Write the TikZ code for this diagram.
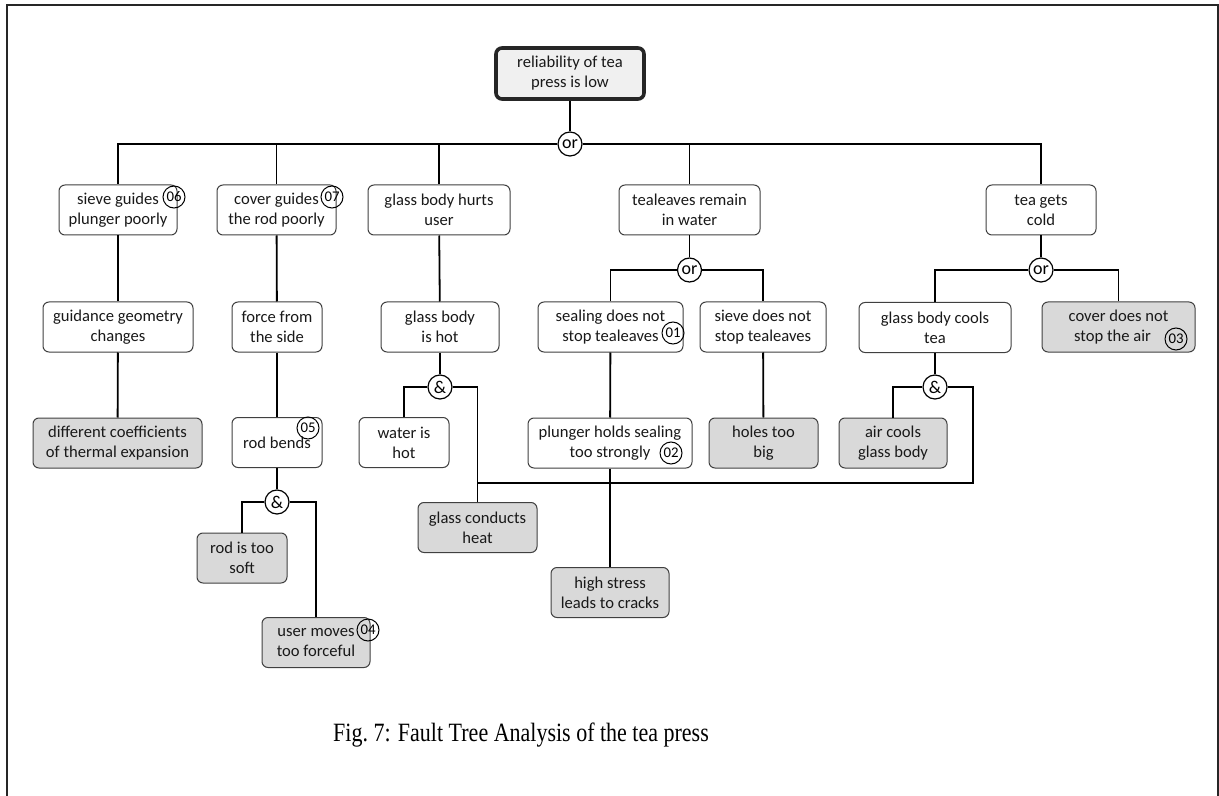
\documentclass[tikz,border=0pt]{standalone}
\usepackage{fontspec}
\setmainfont{Carlito}
\newfontfamily\capfont{Liberation Serif}
\begin{document}
\begin{tikzpicture}[x=0.5pt,y=-0.5pt,
  box/.style={draw=black!75, rounded corners=3pt, line width=0.5pt, align=center,
    font=\fontsize{8.3}{10}\selectfont, inner sep=0pt, minimum height=25pt, text=black!90, fill=white},
  gbox/.style={box, fill=black!15},
  topbox/.style={box, line width=1.8pt, draw=black!85, fill=black!6},
  gate/.style={circle, draw, line width=0.6pt, fill=white, minimum size=12pt, inner sep=0pt,
    font=\fontsize{9}{10}\selectfont},
  badge/.style={circle, draw, line width=0.5pt, minimum size=11pt, inner sep=0pt,
    font=\fontsize{7.4}{8}\selectfont},
  conn/.style={line width=0.9pt, black},
  frame/.style={line width=1pt, black!85}
]
\useasboundingbox (0,0) rectangle (1219,796);
\draw[frame] (7,796) -- (7,5) -- (1218,5) -- (1218,796);

% nodes
\node[topbox, minimum width=74pt, minimum height=25.5pt] (top) at (570,73.5) {reliability of tea\\press is low};

\node[box, minimum width=59pt] (n1) at (118,210) {sieve guides\\plunger poorly};
\node[box, minimum width=59.5pt] (n2) at (276.5,210) {cover guides\\the rod poorly};
\node[box, minimum width=71pt] (n3) at (439,210) {glass body hurts\\user};
\node[box, minimum width=70.5pt] (n4) at (689.5,210) {tealeaves remain\\in water};
\node[box, minimum width=55pt] (n5) at (1041,210) {tea gets\\cold};

\node[box, minimum width=75pt] (g1) at (118,327) {guidance geometry\\changes};
\node[box, minimum width=45pt] (g2) at (277,327) {force from\\the side};
\node[box, minimum width=59pt] (g3) at (440,327) {glass body\\is hot};
\node[box, minimum width=72.5pt] (g4) at (610.5,327) {sealing does not\\stop tealeaves};
\node[box, minimum width=63pt] (g5) at (763,327) {sieve does not\\stop tealeaves};
\node[box, minimum width=76pt] (g6) at (935,327.5) {glass body cools\\tea};
\node[gbox, minimum width=76.5pt] (g7) at (1118.5,327) {cover does not\\stop the air\hspace*{6pt}};

\node[gbox, minimum width=84.5pt] (h1) at (117.5,443) {different coefficients\\of thermal expansion};
\node[box, minimum width=45pt] (h2) at (277,442.5) {rod bends};
\node[box, minimum width=45pt] (h3) at (404,442.5) {water is\\hot};
\node[box, minimum width=82pt] (h4) at (610,443) {plunger holds sealing\\too strongly};
\node[gbox, minimum width=54.5pt] (h5) at (763.5,443) {holes too\\big};
\node[gbox, minimum width=54pt] (h6) at (893,443) {air cools\\glass body};

\node[gbox, minimum width=59.5pt] (gc) at (477.5,527.5) {glass conducts\\heat};
\node[gbox, minimum width=45pt] (rs) at (242,558) {rod is too\\soft};
\node[gbox, minimum width=59pt] (hs) at (610,592.5) {high stress\\leads to cracks};
\node[gbox, minimum width=54pt] (um) at (316,642.5) {user moves\\too forceful};

% gates
\node[gate] (or0) at (570,144) {or};
\node[gate] (or1) at (689.5,270) {or};
\node[gate] (or2) at (1041,270) {or};
\node[gate] (and1) at (440,387) {\&};
\node[gate] (and2) at (935,387) {\&};
\node[gate] (and3) at (277,502) {\&};

% badges
\node[badge] (b6) at (174,197) {06};
\node[badge] (b7) at (332,197) {07};
\node[badge] (b1) at (673,333) {01};
\node[badge] (b3) at (1176,339) {03};
\node[badge] (b5) at (308,428) {05};
\node[badge] (b2) at (671,453) {02};
\node[badge] (b4) at (368,630) {04};

\coordinate (jc) at (973,483);

% connectors
\draw[conn] (top) -- (or0);
\draw[conn] (or0) -| (n1);
\draw[conn] (or0) -| (n2);
\draw[conn] (or0) -| (n3);
\draw[conn] (or0) -| (n4);
\draw[conn] (or0) -| (n5);
\draw[conn] (n1) -- (g1);
\draw[conn] (g1) -- (h1);
\draw[conn] (n2) -- (g2);
\draw[conn] (g2) -- (h2);
\draw[conn] (h2) -- (and3);
\draw[conn] (and3) -| (rs);
\draw[conn] (and3) -| (um);
\draw[conn] (n3) -- (g3);
\draw[conn] (g3) -- (and1);
\draw[conn] (and1) -| (h3);
\draw[conn] (and1) -| (gc);
\draw[conn] (n4) -- (or1);
\draw[conn] (or1) -| (g4);
\draw[conn] (or1) -| (g5);
\draw[conn] (g4) -- (h4);
\draw[conn] (h4) -- (hs);
\draw[conn] (g5) -- (h5);
\draw[conn] (n5) -- (or2);
\draw[conn] (or2) -| (g6);
\draw[conn] (or2) -| (g7);
\draw[conn] (g6) -- (and2);
\draw[conn] (and2) -| (h6);
\draw[conn] (and2) -| (jc) -| (gc);

\node[font=\capfont\fontsize{11}{13}\selectfont, anchor=base, inner sep=0pt] (cap) at (521,741) {\scalebox{1}[1.2]{Fig.~7: Fault Tree Analysis of the tea press}};
\end{tikzpicture}
\end{document}
